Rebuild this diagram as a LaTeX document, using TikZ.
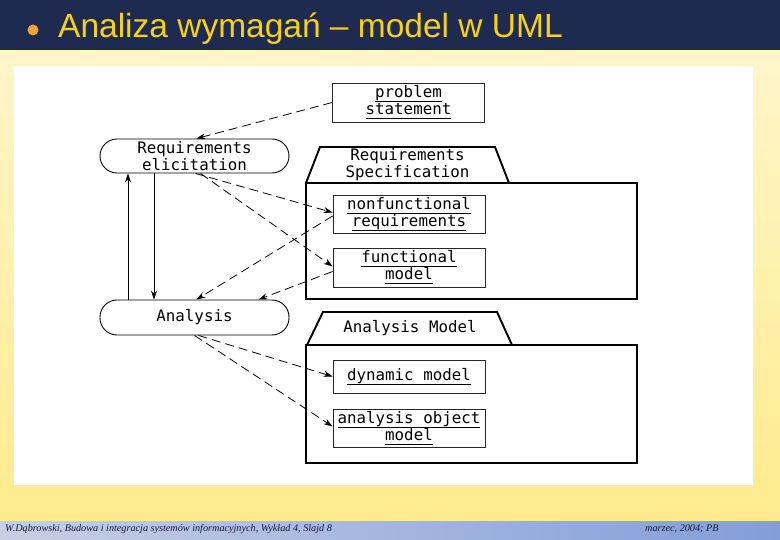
\documentclass[tikz,border=0pt]{standalone}
\usepackage{fontspec}
\setmainfont{Liberation Serif}
\newfontfamily\titlefont{Liberation Sans}
\newfontfamily\diafont{DejaVu Sans Mono}
\usetikzlibrary{arrows.meta,calc}
\definecolor{barblue}{HTML}{1E2A4F}
\definecolor{titleyellow}{HTML}{F7D117}
\definecolor{bulletorange}{HTML}{F2A03A}
\definecolor{bgtop}{HTML}{FFF5CA}
\definecolor{bgbot}{HTML}{FFEB8A}
\definecolor{ftleft}{HTML}{C6CFE4}
\definecolor{ftright}{HTML}{829DDA}
\definecolor{foottext}{HTML}{1A1A3A}
\newcommand\diasize{\diafont\fontsize{15.8}{16.8}\selectfont}
\newcommand\uln[1]{\setbox0\hbox{#1}\rlap{\rule[-4.4pt]{\wd0}{0.85pt}}\box0}
\begin{document}
\begin{tikzpicture}[x=1pt,y=-1pt]
\tikzset{
  obj/.style={draw=black!85, line width=0.8pt, minimum width=152pt, inner sep=0pt, align=center, font=\diasize},
  act/.style={draw=black, line width=0.9pt, rounded corners=17pt, minimum width=189pt, minimum height=34pt, inner sep=0pt, align=center, font=\diasize},
  pkg/.style={draw=black, line width=1.9pt, line join=miter},
  lbl/.style={inner sep=0pt, align=center, font=\diasize},
  flow/.style={draw=black, line width=0.8pt, dash pattern=on 9pt off 5pt, -{Stealth[length=9pt,width=6pt]}},
  ctrl/.style={draw=black, line width=0.8pt, -{Stealth[length=9pt,width=6pt]}},
  foot/.style={anchor=base west, inner sep=0pt, text=foottext, font=\itshape\fontsize{10.2}{12}\selectfont}
}
\useasboundingbox (0,0) rectangle (780,540);
% background
\shade[top color=bgtop, bottom color=bgbot] (0,50) rectangle (780,540);
\fill[barblue] (0,0) rectangle (780,50);
\shade[left color=ftleft, right color=ftright] (0,521) rectangle (780,540);
\fill[white] (14,66) rectangle (753,485);
% title
\fill[bulletorange] (33,30) circle (5.5pt);
\node[anchor=base west, inner sep=0pt, text=titleyellow, font=\titlefont\fontsize{33.5}{36}\selectfont] (title) at (58,37.5) {Analiza wymagań – model w UML};
% packages
\draw[pkg] (306,183) -- (320,147) -- (495,147) -- (509,183);
\draw[pkg] (306,183) rectangle (637,299);
\node[lbl] (rslbl) at (407.5,165) {Requirements\\Specification};
\draw[pkg] (307,345) -- (323,312) -- (497,312) -- (512,345);
\draw[pkg] (306,345) rectangle (637,463);
\node[lbl] (amlbl) at (410,328.5) {Analysis Model};
% objects
\node[obj, minimum height=39pt] (ps) at (408.5,102.5) {\uln{problem}\\\uln{statement}};
\node[obj, minimum height=38pt] (nf) at (409,214) {\uln{nonfunctional}\\\uln{requirements}};
\node[obj, minimum height=39pt] (fm) at (409,267.5) {\uln{functional}\\\uln{model}};
\node[obj, minimum height=33pt] (dm) at (409,376.5) {\uln{dynamic model}};
\node[obj, minimum height=38pt] (ao) at (409,428) {\uln{analysis object}\\\uln{model}};
% activities
\node[act] (re) at (194.5,156) {Requirements\\elicitation};
\node[act, minimum height=35pt] (an) at (194.5,317.5) {Analysis};
% connectors
\draw[flow] (ps.west) -- ([xshift=2pt]re.north);
\draw[flow] ([xshift=1pt]re.south) -- ([yshift=1.5pt]nf.west);
\draw[flow] ([xshift=6pt]re.south) -- ([yshift=1pt]fm.west);
\draw[flow] ([yshift=-2pt]nf.west) -- ([xshift=2pt]an.north);
\draw[flow] ([yshift=-4pt]fm.west) -- ([xshift=64pt]an.north);
\draw[ctrl] ([xshift=-66.5pt]an.north) -- ([xshift=-66.5pt]re.south);
\draw[ctrl] ([xshift=-40.5pt]re.south) -- ([xshift=-40.5pt]an.north);
\draw[flow] ([xshift=4pt]an.south) -- (dm.west);
\draw[flow] (an.south) -- ([yshift=1.5pt]ao.west);
% footer
\node[foot] (f1) at (5,531) {W.Dąbrowski, Budowa i integracja systemów informacyjnych, Wykład 4, Slajd 8};
\node[foot] (f2) at (645,531) {marzec, 2004; PB};
\end{tikzpicture}
\end{document}
